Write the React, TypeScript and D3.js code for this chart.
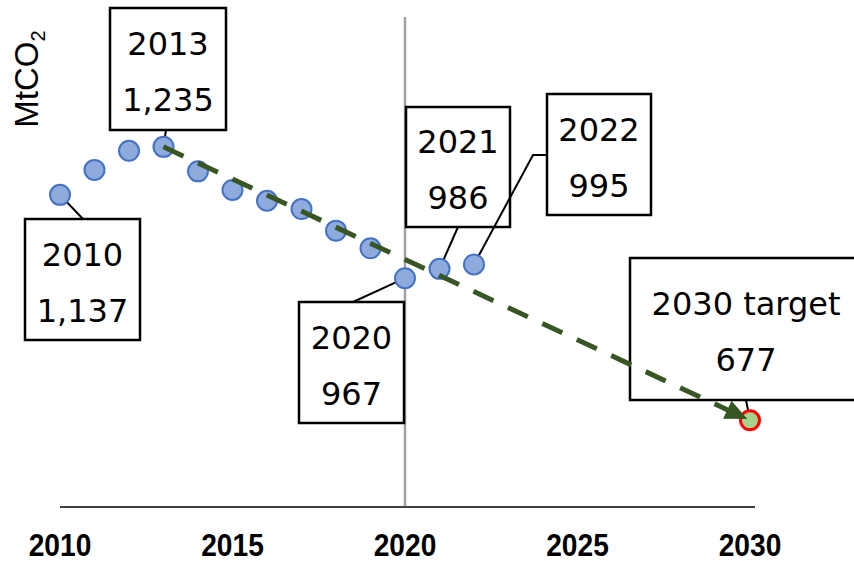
import React from "react";
import * as d3 from "d3";

const years = [2010, 2011, 2012, 2013, 2014, 2015, 2016, 2017, 2018, 2019, 2020, 2021, 2022];
const emissions = [1137, 1188, 1227, 1235, 1185, 1147, 1125, 1108, 1064, 1028, 967, 986, 995];
const targetYear = 2030;
const targetValue = 677;
const xTicks = [2010, 2015, 2020, 2025, 2030];
const annoYears = [2010, 2013, 2020, 2021, 2022];
const annoLine1 = ["2010", "2013", "2020", "2021", "2022"];
const annoLine2 = ["1,137", "1,235", "967", "986", "995"];
const targetLine1 = "2030 target";
const targetLine2 = "677";

const W = 854;
const H = 561;

const boxLayout: { x: number; y: number; w: number; h: number; anchor: [number, number][] }[] = [
  { x: 25, y: 219, w: 115, h: 121, anchor: [[83, 219]] },
  { x: 110, y: 8, w: 116, h: 122, anchor: [[166, 130]] },
  { x: 299, y: 302, w: 105, h: 121, anchor: [[353, 302]] },
  { x: 406, y: 107, w: 104, h: 120, anchor: [[458, 227]] },
  { x: 547, y: 94, w: 104, h: 121, anchor: [[547, 155], [533, 155]] },
];
const targetBox = { x: 630, y: 258, w: 232, h: 142, anchor: [[746, 400]] as [number, number][] };

export default function App() {
  const x = d3.scaleLinear().domain([2010, 2030]).range([60, 750]);
  const y = d3.scaleLinear().domain([500, 1500]).range([507, 17]);
  const font = "'DejaVu Sans', Verdana, sans-serif";
  const fs = 32;

  const x0 = x(2013), y0 = y(1235);
  const x1 = x(targetYear), y1 = y(targetValue);
  const ang = Math.atan2(y1 - y0, x1 - x0);
  const tipBack = 3;
  const tipX = x1 - Math.cos(ang) * tipBack;
  const tipY = y1 - Math.sin(ang) * tipBack;
  const headLen = 22, headW = 10;
  const bx = tipX - Math.cos(ang) * headLen;
  const by = tipY - Math.sin(ang) * headLen;
  const head = [
    [tipX, tipY],
    [bx + Math.sin(ang) * headW, by - Math.cos(ang) * headW],
    [bx - Math.sin(ang) * headW, by + Math.cos(ang) * headW],
  ];
  const lineEndX = bx + Math.cos(ang) * 4;
  const lineEndY = by + Math.sin(ang) * 4;

  const renderBox = (
    b: { x: number; y: number; w: number; h: number; anchor: [number, number][] },
    px: number,
    py: number,
    l1: string,
    l2: string,
    key: string
  ) => {
    const cx = b.x + b.w / 2;
    const cy = b.y + b.h / 2;
    const pts = [...b.anchor, [px, py]];
    const path = d3.line()(pts as [number, number][]) || "";
    return (
      <g key={key}>
        <path d={path} fill="none" stroke="#000" strokeWidth={2} />
        <rect x={b.x} y={b.y} width={b.w} height={b.h} fill="#fff" stroke="#000" strokeWidth={2.5} />
        <text x={cx} y={cy - 14} textAnchor="middle" fontFamily={font} fontSize={fs} fill="#000">{l1}</text>
        <text x={cx} y={cy + 42} textAnchor="middle" fontFamily={font} fontSize={fs} fill="#000">{l2}</text>
      </g>
    );
  };

  return (
    <svg width={W} height={H} style={{ position: "absolute", left: 0, top: 0 }}>
      <rect width={W} height={H} fill="#fff" />
      <line x1={x(2020)} x2={x(2020)} y1={y(1500)} y2={y(500)} stroke="#A0A0A0" strokeWidth={2.5} />
      <line x1={x(2010)} x2={755} y1={y(500)} y2={y(500)} stroke="#404040" strokeWidth={2} />
      {xTicks.map((t) => (
        <text
          key={t}
          transform={`translate(${x(t)},556) scale(0.88,1)`}
          textAnchor="middle"
          fontFamily="'Liberation Sans', Arial, sans-serif"
          fontWeight="bold"
          fontSize={32}
          fill="#000"
        >
          {t}
        </text>
      ))}
      <text transform={`translate(38,${79}) rotate(-90)`} textAnchor="middle" fontFamily="'Liberation Sans', Arial, sans-serif" fontSize={33} fill="#000">
        MtCO<tspan fontSize={20} dy={7}>2</tspan>
      </text>
      {annoYears.map((yr, i) => {
        const idx = years.indexOf(yr);
        return renderBox(boxLayout[i], x(yr), y(emissions[idx]), annoLine1[i], annoLine2[i], "b" + yr);
      })}
      {renderBox(targetBox, x1, y1, targetLine1, targetLine2, "target")}
      {years.map((yr, i) => (
        <circle key={yr} cx={x(yr)} cy={y(emissions[i])} r={10} fill="#8FAADC" stroke="#4472C4" strokeWidth={2} />
      ))}
      <circle cx={x1} cy={y1} r={9.5} fill="#A9D18E" stroke="#FF0000" strokeWidth={3} />
      <line x1={x0} y1={y0} x2={lineEndX} y2={lineEndY} stroke="#375623" strokeWidth={5} strokeDasharray="22 16" />
      <polygon points={head.map((p) => p.join(",")).join(" ")} fill="#375623" />
    </svg>
  );
}
